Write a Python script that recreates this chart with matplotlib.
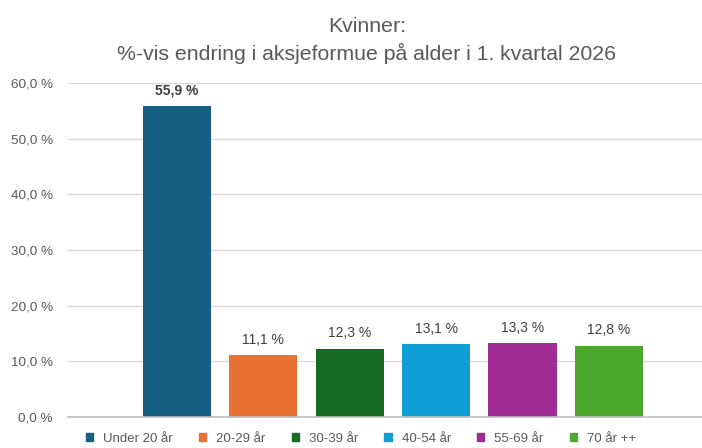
import matplotlib
matplotlib.use("Agg")
import matplotlib.pyplot as plt
from matplotlib.patches import Patch
from matplotlib.ticker import FuncFormatter

categories = ["Under 20 år", "20-29 år", "30-39 år", "40-54 år", "55-69 år", "70 år ++"]
values = [55.9, 11.1, 12.3, 13.1, 13.3, 12.8]
labels = ["55,9 %", "11,1 %", "12,3 %", "13,1 %", "13,3 %", "12,8 %"]
colors = ["#156082", "#E97132", "#196B24", "#0F9ED5", "#A02B93", "#4EA72E"]
title_lines = ["Kvinner:", "%-vis endring i aksjeformue på alder i 1. kvartal 2026"]

plt.rcParams['font.family'] = ['Liberation Sans', 'DejaVu Sans']

fig = plt.figure(figsize=(7.02, 4.48), dpi=100)
ax = fig.add_axes([68/702, 1-417/448, 1-68/702, (417-83)/448])

x = list(range(len(values)))
ax.bar(x, values, width=0.79, color=colors, zorder=3)
ax.set_ylim(0, 60)
ax.set_xlim(-1.263, 6.08)
ax.set_yticks([0, 10, 20, 30, 40, 50, 60])
ax.yaxis.set_major_formatter(FuncFormatter(lambda v, p: f"{v:.1f}".replace(".", ",") + " %"))
ax.tick_params(axis='y', length=0, labelsize=9.7, labelcolor="#595959", pad=11)
ax.set_xticks([])
ax.grid(axis='y', color="#D9D9D9", linewidth=1, zorder=0)
for s in ["top", "right", "left"]:
    ax.spines[s].set_visible(False)
ax.spines["bottom"].set_color("#BFBFBF")
ax.spines["bottom"].set_linewidth(1.2)
ax.spines["bottom"].set_zorder(4)

for i, (v, lab) in enumerate(zip(values, labels)):
    ax.annotate(lab, (i, v), xytext=(0, 6), textcoords="offset points",
                ha="center", va="bottom", fontsize=10,
                color="#404040", fontweight="bold" if i == 0 else "normal")

fig.text(367/702, 1-32/448, title_lines[0], ha="center", va="baseline", fontsize=15.3, color="#595959")
fig.text(367/702, 1-60/448, title_lines[1], ha="center", va="baseline", fontsize=15.3, color="#595959")

handles = [Patch(facecolor=c, edgecolor=c) for c in colors]
leg = fig.legend(handles, categories, loc="center", bbox_to_anchor=(361/702, 1-439/448), ncol=6,
                 frameon=False, fontsize=9.5, handlelength=0.55, handleheight=0.55,
                 handletextpad=0.75, columnspacing=2.0, labelcolor="#595959")

fig.savefig("out.png", dpi=100)
